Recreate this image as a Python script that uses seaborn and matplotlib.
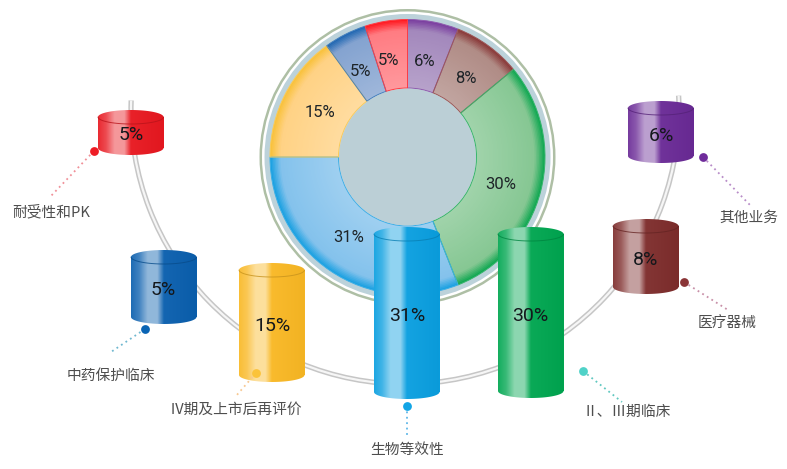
import numpy as np
import matplotlib
matplotlib.use("Agg")
import matplotlib.pyplot as plt
from matplotlib.colors import LinearSegmentedColormap, to_rgb
from matplotlib.patches import Arc, Circle, Polygon
import seaborn as sns

# Data, clockwise from 12 o'clock
categories = ["其他业务", "医疗器械", "Ⅱ、Ⅲ期临床", "生物等效性", "Ⅳ期及上市后再评价", "中药保护临床", "耐受性和PK"]
values = [6, 8, 30, 31, 15, 5, 5]

# Colours
base_colors = ["#6A2A96", "#7E2D2C", "#00A650", "#0A9FE0", "#F9B824", "#0A5FAE", "#E81820"]
rim_colors = ["#7B3FA0", "#8A3A3A", "#12A852", "#1BA1E2", "#F9C23C", "#2268B2", "#FF1A22"]
pale_colors = ["#A388BC", "#B08C86", "#86C793", "#84C2EC", "#FFD285", "#84A3D0", "#FF7C82"]
dot_colors = ["#6F2C9B", "#8A3436", "#4FD2C8", "#12A5E6", "#FBC33A", "#0A64B4", "#EE1C25"]
line_colors = ["#B88CC8", "#C890A8", "#60C8C0", "#60B8E8", "#F8C890", "#70B8D0", "#F09098"]

# Layout in picture pixels (y measured from the top)
cyl_left = [628, 613, 498, 374, 239, 131, 98]
cyl_top = [101, 219, 227, 227, 263, 250, 110]
cyl_bottom = [163, 294, 398, 399, 382, 324, 155]
cyl_text = [(661, 136), (646, 260), (530, 316), (407, 316), (272, 326), (163, 290), (131, 135)]
pie_text = [(425, 61), (466, 78), (501, 184), (349, 237), (320, 112), (361, 71), (389, 60)]
dot_pos = [(703, 157), (684, 282), (583, 371), (407, 406), (256, 373), (145, 329), (94, 151)]
leader_end = [(750, 205), (728, 310), (622, 402), (407, 438), (236, 396), (111, 352), (50, 197)]
name_pos = [(749, 218), (727, 323), (627, 412), (407, 450), (236, 410), (111, 376), (51, 212)]

W, H = 787, 469
CYL_W, RY = 65.5, 7


def flip(y):
    return H - y


def mix(c1, c2, t):
    a, b = np.array(to_rgb(c1)), np.array(to_rgb(c2))
    return tuple(a + (b - a) * t)


sns.set_theme(style="white")
plt.rcParams["font.family"] = ["Noto Sans CJK SC", "DejaVu Sans"]
NUM_FONT = "Roboto"

fig = plt.figure(figsize=(W / 100, H / 100), dpi=100)
ax = fig.add_axes([0, 0, 1, 1])

# -------------------------------
# Grey double arc behind the cylinders
# -------------------------------
for col, lw in [("#C6C6C6", 3.8), ("#F6F6F6", 1.6)]:
    ax.add_patch(Arc((405, flip(110)), 548, 548, theta1=178, theta2=363, color=col, lw=lw, zorder=1))

# -------------------------------
# Donut
# -------------------------------
cx, cy = 407.5, flip(157)
ax.add_patch(Circle((cx, cy), 148, fc="#AEBFA5", ec="none", zorder=1.5))
ax.add_patch(Circle((cx, cy), 145.5, fc="white", ec="none", zorder=1.6))
ax.add_patch(Circle((cx, cy), 143, fc="#BCD2DA", ec="none", zorder=1.7))

radii = np.linspace(137.5, 70, 46)
for r in radii:
    depth = 137.5 - r
    if depth < 10:
        t = depth / 10
        cols = [mix(a, b, t) for a, b in zip(rim_colors, pale_colors)]
    else:
        t = (depth - 10) / 58 * 0.22
        cols = [mix(c, "white", t) for c in pale_colors]
    wedges, _ = ax.pie(values, colors=cols, radius=r, center=(cx, cy), startangle=90,
                       counterclock=False, frame=True, wedgeprops={"linewidth": 0})
    for w in wedges:
        w.set_zorder(2)

edges, _ = ax.pie(values, colors=rim_colors, radius=137.5, center=(cx, cy), startangle=90,
                  counterclock=False, frame=True,
                  wedgeprops={"width": 68.5, "linewidth": 0.7})
for w, col in zip(edges, rim_colors):
    w.set_facecolor("none")
    w.set_edgecolor(mix(col, "white", 0.15))
    w.set_zorder(2.1)
ax.add_patch(Circle((cx, cy), 68.5, fc="#BBCFD6", ec="none", zorder=2.2))

for v, (tx, ty) in zip(values, pie_text):
    ax.text(tx, flip(ty), f"{v}%", family=NUM_FONT, fontsize=12, color="#1E2428",
            ha="center", va="center", zorder=3)

# -------------------------------
# Cylinders
# -------------------------------
for i, v in enumerate(values):
    left, top, bottom = cyl_left[i], cyl_top[i], cyl_bottom[i]
    mid = left + CYL_W / 2
    base = base_colors[i]
    y0, y1 = flip(bottom) + RY, flip(top) - RY

    sns.barplot(x=[mid], y=[y1 - y0], bottom=y0, width=CYL_W, native_scale=True, color=base,
                saturation=1, errorbar=None, ax=ax, zorder=4, linewidth=0)

    th = np.linspace(0, np.pi, 40)
    upper = np.column_stack([mid + CYL_W / 2 * np.cos(th), y1 + RY * np.sin(th)])
    lower = np.column_stack([mid - CYL_W / 2 * np.cos(th), y0 - RY * np.sin(th)])
    shape = Polygon(np.vstack([upper, lower]), closed=True, fc="none", ec="none",
                    transform=ax.transData, zorder=4)
    ax.add_patch(shape)

    cmap = LinearSegmentedColormap.from_list("cyl", [
        (0.0, mix(base, "white", 0.08)), (0.12, mix(base, "white", 0.22)),
        (0.25, mix(base, "white", 0.55)), (0.40, mix(base, "white", 0.55)),
        (0.50, mix(base, "white", 0.04)), (1.0, mix(base, "black", 0.03))])
    im = ax.imshow(np.linspace(0, 1, 200).reshape(1, -1), cmap=cmap, aspect="auto",
                   extent=(left, left + CYL_W, flip(bottom), flip(top)), zorder=4.1)
    im.set_clip_path(shape)

    # inner rim of the open top
    th2 = np.linspace(np.pi, 2 * np.pi, 40)
    ax.plot(mid + CYL_W / 2 * np.cos(th2), y1 + RY * np.sin(th2), color=mix(base, "black", 0.2),
            lw=0.7, alpha=0.8, zorder=4.2)

    tx, ty = cyl_text[i]
    ax.text(tx, flip(ty), f"{v}%", family=NUM_FONT, fontsize=14, color="#14181C",
            ha="center", va="center", zorder=6)

# -------------------------------
# Leaders, dots and names
# -------------------------------
for i, name in enumerate(categories):
    dx, dy = dot_pos[i]
    ex, ey = leader_end[i]
    sns.lineplot(x=[dx, ex], y=[flip(dy), flip(ey)], color=line_colors[i], linestyle=(0, (1, 2)),
                 linewidth=1.3, estimator=None, sort=False, ax=ax, zorder=4.5)
    sns.scatterplot(x=[dx], y=[flip(dy)], color=dot_colors[i], s=40, linewidth=0, ax=ax, zorder=5)
    nx, ny = name_pos[i]
    ax.text(nx, flip(ny), name, fontsize=10.6, color="#4E4E4E", ha="center", va="center", zorder=6)

ax.set_xlim(0, W)
ax.set_ylim(0, H)
ax.set_aspect("auto")
ax.set_xlabel("")
ax.set_ylabel("")
ax.axis("off")
fig.savefig("out.png", dpi=100, facecolor="white")
